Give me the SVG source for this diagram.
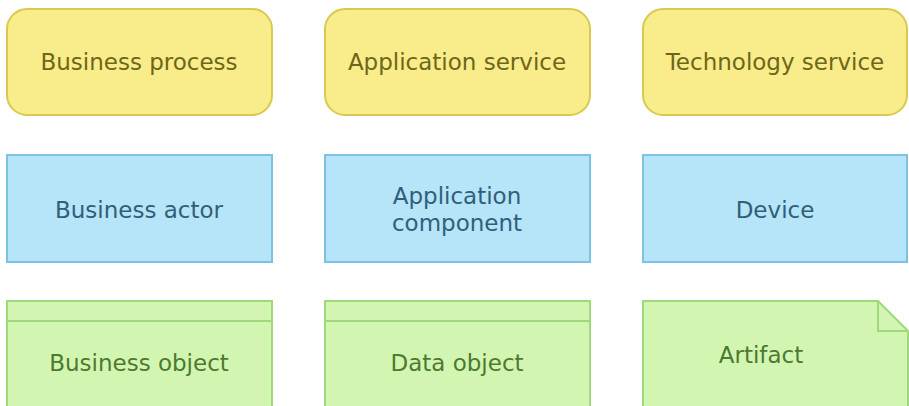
<svg xmlns="http://www.w3.org/2000/svg" width="909" height="406" viewBox="0 0 909 406">
  <style>
    .lbl { font-family: "DejaVu Sans", Verdana, sans-serif; font-size: 23px; text-anchor: middle; }
    .svc rect { fill: #f9ec8a; stroke: #d8c950; stroke-width: 2; }
    .svc text { fill: #6e6618; }
    .act rect { fill: #b6e4f9; stroke: #7ec2e2; stroke-width: 2; }
    .act text { fill: #2f6079; }
    .obj rect, .obj path { fill: #d3f5b2; stroke: #9fd97c; stroke-width: 2; }
    .obj line, .obj polyline { fill: none; stroke: #9fd97c; stroke-width: 2; }
    .obj text { fill: #4c7a2e; }
  </style>

  <!-- top row: services / processes -->
  <g id="business-process" class="svc">
    <rect x="7" y="9" width="265" height="106" rx="20" ry="20"/>
    <text class="lbl" x="139" y="70">Business process</text>
  </g>
  <g id="application-service" class="svc">
    <rect x="325" y="9" width="265" height="106" rx="20" ry="20"/>
    <text class="lbl" x="457" y="70">Application service</text>
  </g>
  <g id="technology-service" class="svc">
    <rect x="643" y="9" width="264" height="106" rx="20" ry="20"/>
    <text class="lbl" x="775" y="70">Technology service</text>
  </g>

  <!-- middle row: active structure -->
  <g id="business-actor" class="act">
    <rect x="7" y="155" width="265" height="107"/>
    <text class="lbl" x="139" y="218">Business actor</text>
  </g>
  <g id="application-component" class="act">
    <rect x="325" y="155" width="265" height="107"/>
    <text class="lbl" x="457" y="204">Application</text>
    <text class="lbl" x="457" y="231">component</text>
  </g>
  <g id="device" class="act">
    <rect x="643" y="155" width="264" height="107"/>
    <text class="lbl" x="775" y="218">Device</text>
  </g>

  <!-- bottom row: passive structure -->
  <g id="business-object" class="obj">
    <rect x="7" y="301" width="265" height="115"/>
    <line x1="7" y1="321" x2="272" y2="321"/>
    <text class="lbl" x="139" y="371">Business object</text>
  </g>
  <g id="data-object" class="obj">
    <rect x="325" y="301" width="265" height="115"/>
    <line x1="325" y1="321" x2="590" y2="321"/>
    <text class="lbl" x="457" y="371">Data object</text>
  </g>
  <g id="artifact" class="obj">
    <path d="M643 301 H878 L908 331 V416 H643 Z"/>
    <polyline points="878,301 878,331 908,331"/>
    <text class="lbl" x="761" y="363">Artifact</text>
  </g>

  <g id="connectors"/>
</svg>
